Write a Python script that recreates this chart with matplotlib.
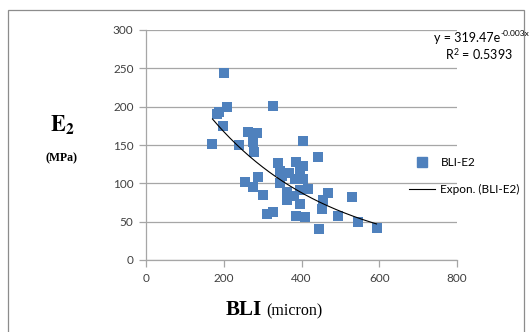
import matplotlib.pyplot as plt
import numpy as np
from matplotlib.patches import Rectangle
from matplotlib.lines import Line2D

# BLI (micron) vs E2 (MPa)
bli = [171, 182, 189, 209, 197, 200, 240, 262, 285, 276, 278, 327,
       254, 289, 276, 302, 312, 327, 340, 387, 344, 368, 383, 344,
       362, 362, 404, 442, 405, 396, 405, 417, 469, 529, 456, 396,
       452, 409, 385, 495, 445, 546, 593, 396, 350, 380]
e2 = [151, 191, 193, 199, 175, 244, 150, 167, 166, 154, 141, 201,
      102, 108, 95, 85, 60, 63, 126, 128, 116, 113, 106, 100,
      89, 78, 155, 134, 122, 115, 106, 93, 88, 82, 78, 73,
      67, 56, 57, 58, 40, 49, 42, 91, 110, 84]

# exponential trend  y = a * exp(-b x)
fit_a = 319.47
fit_b = 0.00323
fit_range = [171, 593]

x_ticks = [0, 200, 400, 600, 800]
y_ticks = [0, 50, 100, 150, 200, 250, 300]

blue = '#4f81bd'
grey = '#a6a6a6'

plt.rcParams['mathtext.fontset'] = 'stix'

fig = plt.figure(figsize=(5.29, 3.32), dpi=100)
ax = fig.add_axes([146 / 529, 72 / 332, 311 / 529, 230 / 332])

# outer chart frame
fig.patches.append(Rectangle((8 / 529, -0.02), 516 / 529, (332 - 10) / 332 + 0.02,
                             transform=fig.transFigure, fill=False,
                             edgecolor='#8c8c8c', linewidth=0.9))

ax.scatter(bli, e2, marker='s', s=50, color=blue, linewidths=0, zorder=3)
xs = np.linspace(fit_range[0], fit_range[1], 200)
ax.plot(xs, fit_a * np.exp(-fit_b * xs), color='black', linewidth=0.8, zorder=4)

ax.set_xlim(0, 800)
ax.set_ylim(0, 300)
ax.set_xticks(x_ticks)
ax.set_yticks(y_ticks)
ax.yaxis.grid(True, color=grey, linewidth=0.9)
ax.set_axisbelow(True)
for s in ['top', 'right']:
    ax.spines[s].set_visible(False)
for s in ['left', 'bottom']:
    ax.spines[s].set_color(grey)
    ax.spines[s].set_linewidth(0.9)
ax.tick_params(axis='both', colors=grey, length=5, width=0.9, labelsize=8.5,
               labelcolor='#404040', pad=4)
for lab in ax.get_xticklabels() + ax.get_yticklabels():
    lab.set_family('Lato')

# axis titles
fig.text(62 / 529, 1 - 125 / 332, r'$\mathbf{E_2}$', fontsize=16, ha='center', va='center')
fig.text(62 / 529, 1 - 158 / 332, '(MPa)', fontsize=8.5, fontweight='bold', ha='center',
         va='center', family='Liberation Serif')
fig.text(262 / 529, 1 - 310 / 332, 'BLI', fontsize=15, fontweight='bold', ha='right',
         va='center', family='Liberation Serif')
fig.text(266 / 529, 1 - 311 / 332, '(micron)', fontsize=11.5, ha='left', va='center',
         family='Liberation Serif')

# trendline equation
fig.text(500 / 529, 1 - 38 / 332, 'y = 319.47e', fontsize=9, ha='right',
         va='center', family='Lato')
fig.text(500 / 529, 1 - 34 / 332, '-0.003x', fontsize=6, ha='left',
         va='center', family='Lato')
fig.text(479 / 529, 1 - 54 / 332, r'R$^\mathregular{2}$ = 0.5393', fontsize=9, ha='center',
         va='center', family='Lato')

handles = [Line2D([], [], marker='s', linestyle='none', color=blue, markersize=7),
           Line2D([], [], color='black', linewidth=0.8)]
fig.legend(handles, ['BLI-E2', 'Expon. (BLI-E2)'], loc='center left',
           bbox_to_anchor=(398 / 529, 1 - 176 / 332), frameon=False,
           prop={'family': 'Lato', 'size': 8.5}, handlelength=2.2,
           labelspacing=1.4, handletextpad=0.5)

plt.savefig('out.png', dpi=100)
